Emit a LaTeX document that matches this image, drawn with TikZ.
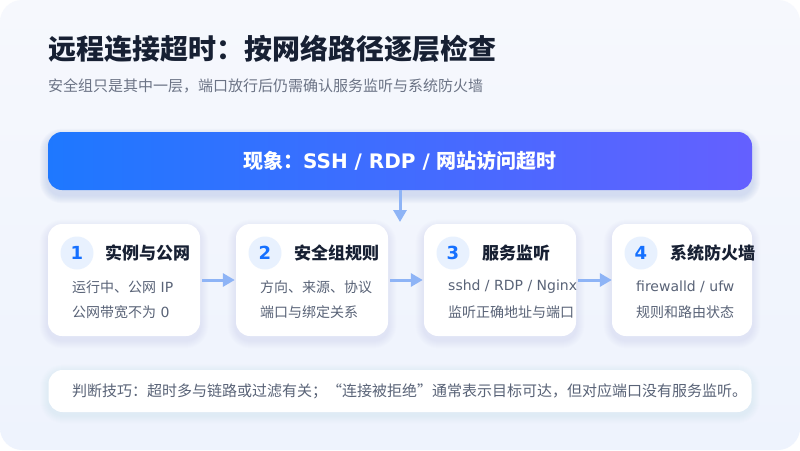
\documentclass[tikz,border=0pt]{standalone}
\usepackage{fontspec}
\setmainfont{Noto Sans CJK SC}
\newfontfamily\latf{DejaVu Sans}
\usetikzlibrary{arrows.meta}
\definecolor{bgA}{HTML}{F6F8FD}
\definecolor{bgB}{HTML}{EEF3FD}
\definecolor{titlec}{HTML}{172033}
\definecolor{subc}{HTML}{6B7385}
\definecolor{bodyc}{HTML}{596377}
\definecolor{bannerL}{HTML}{1E78FF}
\definecolor{bannerR}{HTML}{6460FF}
\definecolor{arrowc}{HTML}{8EB4F6}
\definecolor{badgec}{HTML}{E8F1FE}
\definecolor{numc}{HTML}{1570FF}
\definecolor{shadowc}{HTML}{9FB6E2}
\pgfdeclarelayer{under}
\pgfsetlayers{under,main}
\newcommand\softshadow[3]{%
  \foreach \i in {1,...,8} {%
    \pgfmathsetmacro\rr{14+\i}%
    \fill[shadowc, opacity=#3, rounded corners=\rr pt]
      ([shift={(-\i,\i+#2)}]#1.south west) rectangle ([shift={(\i,-\i+#2)}]#1.north east);
  }}
\tikzset{
  card/.style={rectangle, rounded corners=14pt, fill=white, draw=none, minimum height=112pt, inner sep=0pt},
  banner/.style={rectangle, rounded corners=14pt, draw=none, minimum width=704pt, minimum height=58pt,
    left color=bannerL, right color=bannerR, text=white, font=\fontsize{20}{24}\selectfont\bfseries},
  badge/.style={circle, fill=badgec, minimum size=33pt, inner sep=0pt, text=numc, font=\fontsize{18}{20}\selectfont\bfseries\latf},
  ctitle/.style={anchor=west, inner sep=0pt, text=titlec, font=\fontsize{17}{20}\selectfont\bfseries},
  body/.style={anchor=west, inner sep=0pt, text=bodyc, font=\fontsize{14}{16}\selectfont},
  conn/.style={draw=arrowc, line width=3pt, -{Triangle[length=12pt,width=13pt]}},
  notebox/.style={rectangle, rounded corners=14pt, fill=white, draw=none, minimum width=703pt, minimum height=42pt},
}
\begin{document}
\begin{tikzpicture}[x=1pt,y=-1pt]
\useasboundingbox (0,0) rectangle (800,450);
\begin{pgfonlayer}{under}
\fill[white] (0,0) rectangle (800,450);
\shade[rounded corners=22pt, top color=bgA, bottom color=bgB] (0,0) rectangle (800,450);
\end{pgfonlayer}

\node[anchor=west, inner sep=0pt, text=titlec, font=\fontsize{28}{32}\selectfont\bfseries] (title) at (48,49) {远程连接超时：按网络路径逐层检查};
\node[anchor=west, inner sep=0pt, text=subc, font=\fontsize{15}{18}\selectfont] (sub) at (48,86) {安全组只是其中一层，端口放行后仍需确认服务监听与系统防火墙};

\node[banner] (ph) at (400,161) {现象：{\latf SSH / RDP / }网站访问超时};

\node[card, minimum width=152pt] (c1) at (124,280) {};
\node[card, minimum width=152pt] (c2) at (312,280) {};
\node[card, minimum width=152pt] (c3) at (500,280) {};
\node[card, minimum width=140pt] (c4) at (682,280) {};
\node[notebox] (note) at (400,391) {};

\begin{pgfonlayer}{under}
\softshadow{ph}{5}{0.05}
\softshadow{c1}{4}{0.022}
\softshadow{c2}{4}{0.022}
\softshadow{c3}{4}{0.022}
\softshadow{c4}{4}{0.022}
\softshadow{note}{3}{0.015}
\end{pgfonlayer}

\coordinate (vend) at (400,222);
\draw[conn] (ph.south) -- (vend);
\draw[conn, shorten <=2pt, shorten >=1pt] (c1) -- (c2);
\draw[conn, shorten <=2pt, shorten >=1pt] (c2) -- (c3);
\draw[conn, shorten <=2pt, shorten >=0pt] (c3) -- (c4);

\node[badge] (b1) at (77,253) {1};
\node[ctitle] (t1) at (105,253) {实例与公网};
\node[body] (l1a) at (72,287) {运行中、公网{\latf\ IP}};
\node[body] (l1b) at (72,312) {公网带宽不为{\latf\ 0}};

\node[badge] (b2) at (265,253) {2};
\node[ctitle] (t2) at (294,253) {安全组规则};
\node[body] (l2a) at (260,287) {方向、来源、协议};
\node[body] (l2b) at (260,312) {端口与绑定关系};

\node[badge] (b3) at (453,253) {3};
\node[ctitle] (t3) at (482,253) {服务监听};
\node[body] (l3a) at (448,287) {\latf sshd / RDP / Nginx};
\node[body] (l3b) at (448,312) {监听正确地址与端口};

\node[badge] (b4) at (641,253) {4};
\node[ctitle] (t4) at (670,253) {系统防火墙};
\node[body] (l4a) at (636,287) {\latf firewalld / ufw};
\node[body] (l4b) at (636,312) {规则和路由状态};

\node[anchor=west, inner sep=0pt, text=bodyc, font=\fontsize{15}{18}\selectfont] (notetext) at (72,391) {判断技巧：超时多与链路或过滤有关；“连接被拒绝”通常表示目标可达，但对应端口没有服务监听。};
\end{tikzpicture}
\end{document}
